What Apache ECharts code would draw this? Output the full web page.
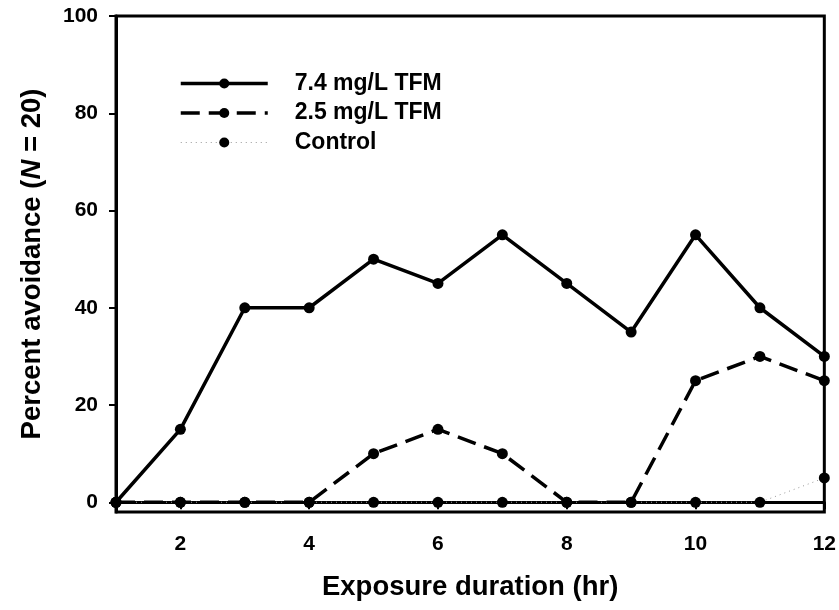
<!DOCTYPE html>
<html>
<head>
<meta charset="utf-8">
<script src="https://cdn.jsdelivr.net/npm/echarts@6/dist/echarts.min.js"></script>
<style>
html,body{margin:0;padding:0;background:#fff;}
#chart{width:839px;height:610px;}
</style>
</head>
<body>
<div id="chart"></div>
<script>
var hours = [1,2,3,4,5,6,7,8,9,10,11,12];
var tfm74 = [0,15,40,40,50,45,55,45,35,55,40,30];
var tfm25 = [0,0,0,0,10,15,10,0,0,25,30,25];
var control = [0,0,0,0,0,0,0,0,0,0,0,5];
var xTicks = [2,4,6,8,10,12];
var yTicks = [0,20,40,60,80,100];
var seriesNames = ['7.4 mg/L TFM','2.5 mg/L TFM','Control'];

function pairs(vals){ return hours.map(function(h,i){ return [h, vals[i]]; }); }

var font = 'Liberation Sans, Arial, sans-serif';
var chart = echarts.init(document.getElementById('chart'));
chart.setOption({
  animation:false,
  backgroundColor:'#fff',
  grid:{left:116,right:14,top:16,bottom:98,show:true,borderColor:'#000',borderWidth:3,backgroundColor:'transparent'},
  legend:{
    orient:'vertical', left:179, top:72, padding:0, itemWidth:87, itemHeight:12.5, itemGap:6.5,
    data:seriesNames,
    lineStyle:{width:'inherit'},
    textStyle:{fontFamily:font,fontWeight:'bold',fontSize:23,color:'#000',padding:[0,0,0,22]}
  },
  xAxis:{
    type:'value', min:1, max:12,
    splitLine:{show:false},
    axisLine:{lineStyle:{color:'#000',width:3}},
    axisTick:{show:true,customValues:xTicks,length:7,lineStyle:{color:'#000',width:2}},
    axisLabel:{customValues:xTicks,margin:22,fontFamily:font,fontWeight:'bold',fontSize:21,color:'#000'},
    name:'Exposure duration (hr)', nameLocation:'middle', nameGap:61,
    nameTextStyle:{fontFamily:font,fontWeight:'bold',fontSize:27.5,color:'#000'}
  },
  yAxis:{
    type:'value', min:-2, max:100,
    splitLine:{show:false},
    axisLine:{lineStyle:{color:'#000',width:3}},
    axisTick:{show:true,customValues:yTicks,length:7,lineStyle:{color:'#000',width:2}},
    axisLabel:{customValues:yTicks,margin:18,fontFamily:font,fontWeight:'bold',fontSize:21,color:'#000'},
    name:'{b|Percent avoidance (}{i|N}{b| = 20)}', nameLocation:'middle', nameGap:70,
    nameTextStyle:{fontFamily:font,fontWeight:'bold',fontSize:27.5,color:'#000',
      rich:{b:{fontFamily:font,fontWeight:'bold',fontSize:27.5,color:'#000'},
            i:{fontFamily:font,fontWeight:'bold',fontStyle:'italic',fontSize:27.5,color:'#000'}}}
  },
  series:[
    {name:seriesNames[0],type:'line',data:pairs(tfm74),symbol:'circle',symbolSize:11,
     lineStyle:{color:'#000',width:3.5,type:'solid'},itemStyle:{color:'#000'},z:5},
    {name:seriesNames[1],type:'line',data:pairs(tfm25),symbol:'circle',symbolSize:11,
     lineStyle:{color:'#000',width:3.5,type:[19,9]},itemStyle:{color:'#000'},z:4},
    {name:seriesNames[2],type:'line',data:pairs(control),symbol:'circle',symbolSize:11,
     lineStyle:{color:'#999',width:1,type:[1,4]},itemStyle:{color:'#000'},z:3}
  ]
});
</script>
</body>
</html>
